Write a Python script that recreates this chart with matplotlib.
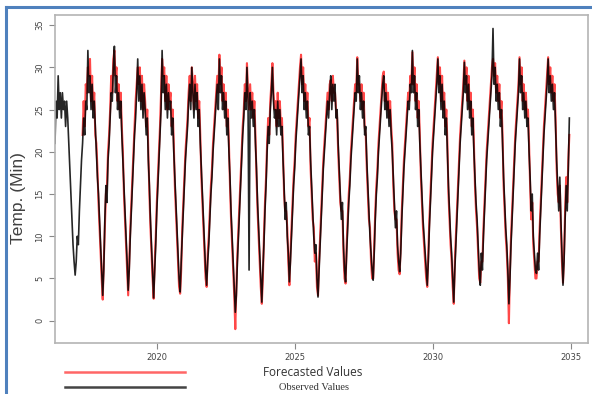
import numpy as np
import matplotlib
matplotlib.use("Agg")
import matplotlib.pyplot as plt
from matplotlib.lines import Line2D

# sampled every ~2 weeks (26 per year), one row per year starting at 2016.30
obs_start = 2016.30
observed = [
    21, 26, 24, 29, 25, 27, 24, 27, 25, 26, 23, 26, 24, 21, 18, 15, 12, 9, 7, 5.4, 7, 10, 9, 13, 16, 19,
    21, 24, 22, 26, 25, 32, 27, 29, 25, 28, 24, 26, 23, 20, 17, 15, 12, 9, 6, 3, 6, 12, 16, 14, 19, 21,
    24, 27, 26, 30, 32.5, 27, 29, 25, 27, 24, 26, 22, 19, 16, 13, 10, 7, 3.6, 6, 10, 13, 16, 19, 22, 24, 27,
    31, 26, 29, 25, 28, 24, 27, 25, 22, 24, 19, 16, 12, 9, 6, 2.7, 6, 9, 13, 16, 19, 22, 25, 32, 27, 29,
    25, 28, 24, 27, 25, 26, 22, 24, 20, 17, 14, 11, 8, 5, 3.4, 7, 10, 13, 16, 19, 21, 23, 26, 28, 25, 30,
    27, 24, 28, 25, 27, 23, 25, 21, 18, 15, 12, 9, 6, 4.2, 7, 9, 12, 15, 17, 20, 22, 24, 26, 28, 25, 31,
    27, 29, 25, 27, 24, 26, 22, 24, 20, 17, 13, 10, 7, 4, 1, 3, 7, 10, 13, 16, 19, 22, 24, 27, 25, 30,
    26, 6, 27, 24, 26, 23, 25, 21, 18, 14, 11, 8, 5, 2.2, 6, 9, 13, 16, 20, 23, 21, 25, 27, 30, 26, 24,
    25, 22, 26, 23, 25, 22, 23, 19, 16, 12, 14, 10, 8, 4.6, 7, 10, 13, 16, 18, 21, 23, 25, 27, 29, 31, 27,
    29, 25, 27, 24, 26, 22, 23, 19, 16, 13, 10, 8, 9, 5, 2.8, 6, 9, 12, 15, 18, 20, 22, 24, 26, 24, 27,
    29, 25, 28, 26, 28, 24, 25, 21, 18, 15, 12, 14, 9, 6, 4.6, 8, 11, 14, 16, 19, 21, 23, 25, 27, 26, 31,
    27, 29, 25, 27, 24, 26, 22, 23, 19, 16, 13, 10, 8, 6, 4.8, 8, 12, 15, 17, 20, 22, 24, 26, 28, 29, 25,
    27, 24, 26, 23, 25, 22, 20, 17, 14, 11, 13, 9, 7, 5.8, 8, 12, 15, 18, 20, 22, 24, 26, 25, 28, 27, 32,
    27, 29, 25, 27, 23, 25, 21, 18, 15, 12, 10, 8, 6, 4.2, 7, 11, 14, 17, 20, 22, 24, 26, 28, 31, 27, 29,
    25, 28, 24, 26, 22, 24, 20, 16, 13, 10, 8, 5, 2.2, 6, 9, 12, 15, 18, 21, 23, 25, 27, 30.6, 27, 29, 25,
    28, 24, 26, 22, 24, 20, 17, 14, 12, 9, 6, 4.2, 8, 6, 10, 13, 16, 19, 21, 23, 25, 27, 29, 34.6, 28, 30,
    26, 28, 25, 27, 23, 25, 21, 17, 14, 11, 9, 6, 2, 5, 9, 12, 15, 18, 21, 23, 25, 27, 31, 27, 29, 25,
    27, 24, 26, 23, 24, 20, 17, 13, 15, 10, 8, 6, 5.6, 8, 6, 10, 13, 16, 19, 22, 24, 26, 28, 31, 27, 29,
    26, 28, 25, 27, 23, 19, 16, 13, 17, 12, 8, 4.2, 7, 12, 16, 13, 18, 24,
]

# forecast begins one year later, same sampling
fc_start = 2017.30
forecast = [
    22, 26, 23, 28, 27, 30, 29, 31, 26, 29, 25, 27, 22, 21, 18, 14, 11, 8, 5, 2.5, 7, 11, 15, 16, 20, 22,
    25, 29, 27, 31, 32, 29, 30, 26, 28, 25, 27, 23, 20, 15, 12, 9, 6, 3, 7, 11, 14, 17, 20, 23, 26, 28,
    30, 28, 30, 26, 29, 25, 28, 26, 23, 25, 20, 15, 11, 8, 5, 2.6, 7, 10, 14, 17, 20, 23, 27, 31, 29, 30,
    26, 29, 25, 28, 26, 27, 23, 25, 21, 16, 13, 10, 7, 4, 3.2, 6, 11, 14, 17, 20, 22, 24, 27, 29, 26, 30,
    28, 25, 29, 26, 28, 24, 26, 22, 17, 14, 11, 8, 5, 4, 8, 10, 13, 16, 18, 21, 23, 25, 27, 29, 27, 31.5,
    28, 30, 26, 28, 25, 27, 23, 25, 21, 16, 12, 9, 6, 3, -1, 4, 8, 11, 14, 17, 20, 23, 25, 28, 26, 30.5,
    27, 25, 28, 25, 27, 24, 26, 22, 17, 13, 10, 7, 4, 2, 5, 10, 14, 17, 21, 24, 22, 26, 28, 30.5, 27, 25,
    26, 23, 27, 24, 26, 23, 24, 20, 15, 13, 13, 11, 7, 4.2, 8, 11, 14, 17, 19, 22, 24, 26, 28, 30, 31.5, 28,
    30, 26, 28, 25, 27, 23, 24, 18, 15, 12, 11, 7, 8, 4, 3, 7, 10, 13, 16, 19, 21, 23, 25, 27, 25, 28,
    28.5, 26, 29, 27, 27, 25, 24, 20, 17, 14, 13, 13, 8, 5, 4.4, 9, 12, 15, 17, 20, 22, 24, 26, 28, 27, 31.2,
    28, 28, 26, 28, 25, 27, 23, 22, 18, 15, 12, 11, 7, 5, 5, 9, 13, 16, 18, 21, 23, 25, 27, 29, 29.5, 26,
    28, 25, 27, 24, 26, 23, 21, 16, 13, 12, 12, 8, 6, 5.5, 9, 13, 16, 19, 21, 23, 25, 27, 26, 29, 28, 31.8,
    28, 30, 26, 28, 24, 26, 22, 17, 14, 11, 9, 7, 5, 4, 8, 12, 15, 18, 21, 23, 25, 27, 29, 31.2, 28, 30,
    26, 29, 25, 27, 23, 25, 21, 15, 12, 9, 7, 4, 2, 7, 10, 13, 16, 19, 22, 24, 26, 28, 30.8, 28, 30, 26,
    29, 25, 27, 23, 25, 21, 16, 13, 11, 8, 5, 4.5, 7, 7, 11, 14, 17, 20, 22, 24, 26, 28, 30, 31, 29, 30.5,
    27, 29, 26, 28, 24, 26, 22, 16, 13, 10, 8, 5, -0.3, 6, 10, 13, 16, 19, 22, 24, 26, 28, 31.2, 28, 30, 26,
    28, 25, 27, 24, 25, 21, 16, 12, 14, 9, 7, 5, 5, 7, 7, 11, 14, 17, 20, 23, 25, 27, 29, 31.2, 28, 30,
    27, 29, 26, 28, 24, 18, 15, 14, 16, 11, 7, 4.5, 8, 13, 17, 14, 19, 22,
]

x_ticks = [2020, 2025, 2030, 2035]
y_ticks = [0, 5, 10, 15, 20, 25, 30, 35]

t_obs = obs_start + np.arange(len(observed)) / 26
t_fc = fc_start + np.arange(len(forecast)) / 26

W, H = 592, 394
fig = plt.figure(figsize=(W / 100, H / 100), dpi=100)
ax = fig.add_axes([55 / W, 1 - 343 / H, (588 - 55) / W, (343 - 15) / H])

ax.plot(t_fc, forecast, color="#ff1a1a", lw=1.5, alpha=0.8)
ax.plot(t_obs, observed, color="black", lw=1.2, alpha=0.85)

ax.set_xlim(2016.30, 2035.63)
ax.set_ylim(-2.64, 36.2)
ax.set_xticks(x_ticks)
ax.set_yticks(y_ticks)
ax.tick_params(colors="#888888", labelcolor="#444444", labelsize=6, length=4, width=0.8)
for lab in ax.get_yticklabels():
    lab.set_rotation(90)
    lab.set_va("center")
for s in ax.spines.values():
    s.set_color("#b4b4b4")
    s.set_linewidth(1.2)


def fx(px):
    return px / W


def fy(py):
    return 1 - py / H


fig.text(fx(19), fy(198), "Temp. (Min)", rotation=90, ha="center", va="center",
         fontsize=12.5, color="#404040", family="Liberation Sans")

# legend below the axes
fig.add_artist(Line2D([fx(65), fx(185)], [fy(372), fy(372)], color="#ff6666", lw=1.8))
fig.add_artist(Line2D([fx(65), fx(185)], [fy(387), fy(387)], color="#444444", lw=1.8))
fig.text(fx(313), fy(372), "Forecasted Values", ha="center", va="center",
         fontsize=8.5, color="#333333", family="Open Sans")
fig.text(fx(314), fy(387), "Observed Values", ha="center", va="center",
         fontsize=7.5, color="#333333", family="Liberation Serif")

# blue frame of the pasted picture
fig.add_artist(Line2D([fx(6), fx(6)], [0, fy(7)], color="#4f81bd", lw=2.2))
fig.add_artist(Line2D([fx(6), 1], [fy(7), fy(7)], color="#4f81bd", lw=2.2))

fig.savefig("out.png", dpi=100, facecolor="white")
